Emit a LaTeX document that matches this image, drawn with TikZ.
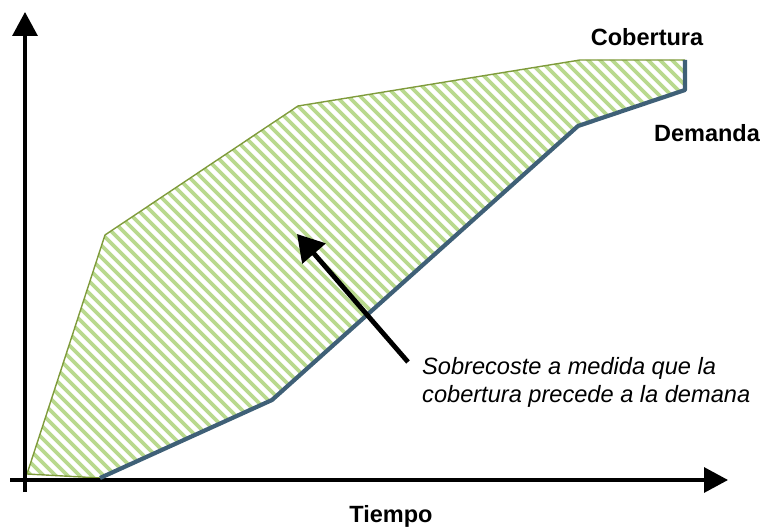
\documentclass[tikz,border=0pt]{standalone}
\usepackage{fontspec}
\setmainfont{Liberation Sans}
\usetikzlibrary{arrows.meta}
\definecolor{covgreen}{HTML}{7F9B3C}
\definecolor{hatchgreen}{HTML}{B9D98E}
\definecolor{demblue}{HTML}{3F6077}
\tikzset{
  axis/.style={line width=3.2pt, -{Triangle[length=24pt,width=25pt]}},
  covline/.style={covgreen, line width=1.4pt, line join=round},
  demline/.style={demblue, line width=4.2pt, line join=round},
  hatch/.style={hatchgreen, line width=3.6pt},
  bigarrow/.style={line width=4.8pt, -{Triangle[length=26pt,width=30pt]}},
  lbl/.style={font=\fontsize{23.5}{27}\selectfont\bfseries, inner sep=0pt},
  note/.style={font=\fontsize{23.6}{28}\selectfont\itshape, align=left, inner sep=0pt, anchor=north west}
}
\begin{document}
\begin{tikzpicture}[x=1pt,y=-1pt]
\useasboundingbox (0,0) rectangle (762,529);
% coordinates
\coordinate (c0) at (27,474);
\coordinate (c1) at (105,235);
\coordinate (c2) at (298,106);
\coordinate (c3) at (580,60);
\coordinate (c4) at (685,60);
\coordinate (d0) at (100,478);
\coordinate (d1) at (272,400);
\coordinate (d2) at (578,126);
\coordinate (d3) at (685,90);
% hatching
\begin{scope}
  \clip (c0) -- (c1) -- (c2) -- (c3) -- (c4) -- (d3) -- (d2) -- (d1) -- (d0) -- cycle;
  \foreach \k in {0,...,105} {
    \draw[hatch] (-600+12*\k,0) -- (-600+12*\k+600,600);
  }
\end{scope}
% cobertura
\draw[covline] (d0) -- (c0) -- (c1) -- (c2) -- (c3) -- (c4);
% axes
\coordinate (ybot) at (25,492);
\coordinate (ytop) at (25,12);
\coordinate (xl) at (10,480);
\coordinate (xr) at (728,480);
\draw[axis] (ybot) -- (ytop);
\draw[axis] (xl) -- (xr);
% demanda
\draw[demline] (d0) -- (d1) -- (d2) -- (d3) -- (c4);
% annotation arrow
\coordinate (as) at (408,362);
\coordinate (ae) at (297,234);
\draw[bigarrow] (as) -- (ae);
% labels
\node[lbl] (cob) at (647,37) {Cobertura};
\node[lbl] (dem) at (707,133) {Demanda};
\node[lbl] (tie) at (391,516) {Tiempo};
\node[note] (txt) at (422,357) {Sobrecoste a medida que la\\cobertura precede a la demana};
\end{tikzpicture}
\end{document}
